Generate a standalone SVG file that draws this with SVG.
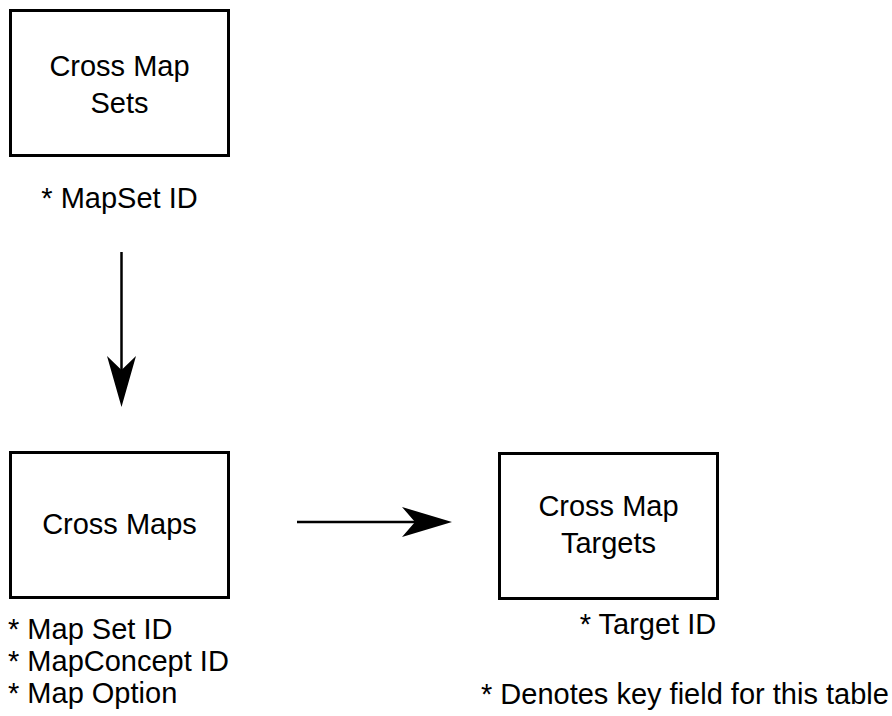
<svg xmlns="http://www.w3.org/2000/svg" width="892" height="716" viewBox="0 0 892 716">
<style>
.box{fill:#fff;stroke:#000;stroke-width:3}
text{font-family:"Liberation Sans",Arial,sans-serif;font-size:29px;fill:#000}
.c{text-anchor:middle}
.edge{stroke:#000;stroke-width:2.5;fill:none}
.head{fill:#000;stroke:none}
</style>
<rect width="892" height="716" fill="#fff"/>
<g id="node-sets">
<rect class="box" x="10.5" y="10.5" width="218" height="145"/>
<text class="c" x="119.5" y="76">Cross Map</text>
<text class="c" x="119.5" y="113">Sets</text>
<text class="c" x="119.5" y="208">* MapSet ID</text>
</g>
<g id="node-maps">
<rect class="box" x="10.5" y="452.5" width="218" height="145"/>
<text class="c" x="119.5" y="534">Cross Maps</text>
<text x="8" y="639">* Map Set ID</text>
<text x="8" y="671">* MapConcept ID</text>
<text x="8" y="703">* Map Option</text>
</g>
<g id="node-targets">
<rect class="box" x="499.5" y="453.5" width="218" height="145"/>
<text class="c" x="608.5" y="516">Cross Map</text>
<text class="c" x="608.5" y="553">Targets</text>
<text class="c" x="648" y="634">* Target ID</text>
</g>
<g id="legend">
<text x="481" y="704">* Denotes key field for this table</text>
</g>
<g id="connectors">
<line class="edge" x1="121.5" y1="252" x2="121.5" y2="375"/>
<path class="head" d="M121.5,407 L107,356 L121.5,370 L136,356 Z"/>
<line class="edge" x1="297" y1="522" x2="420" y2="522"/>
<path class="head" d="M452,522 L402,507 L415,522 L402,537 Z"/>
</g>
</svg>
